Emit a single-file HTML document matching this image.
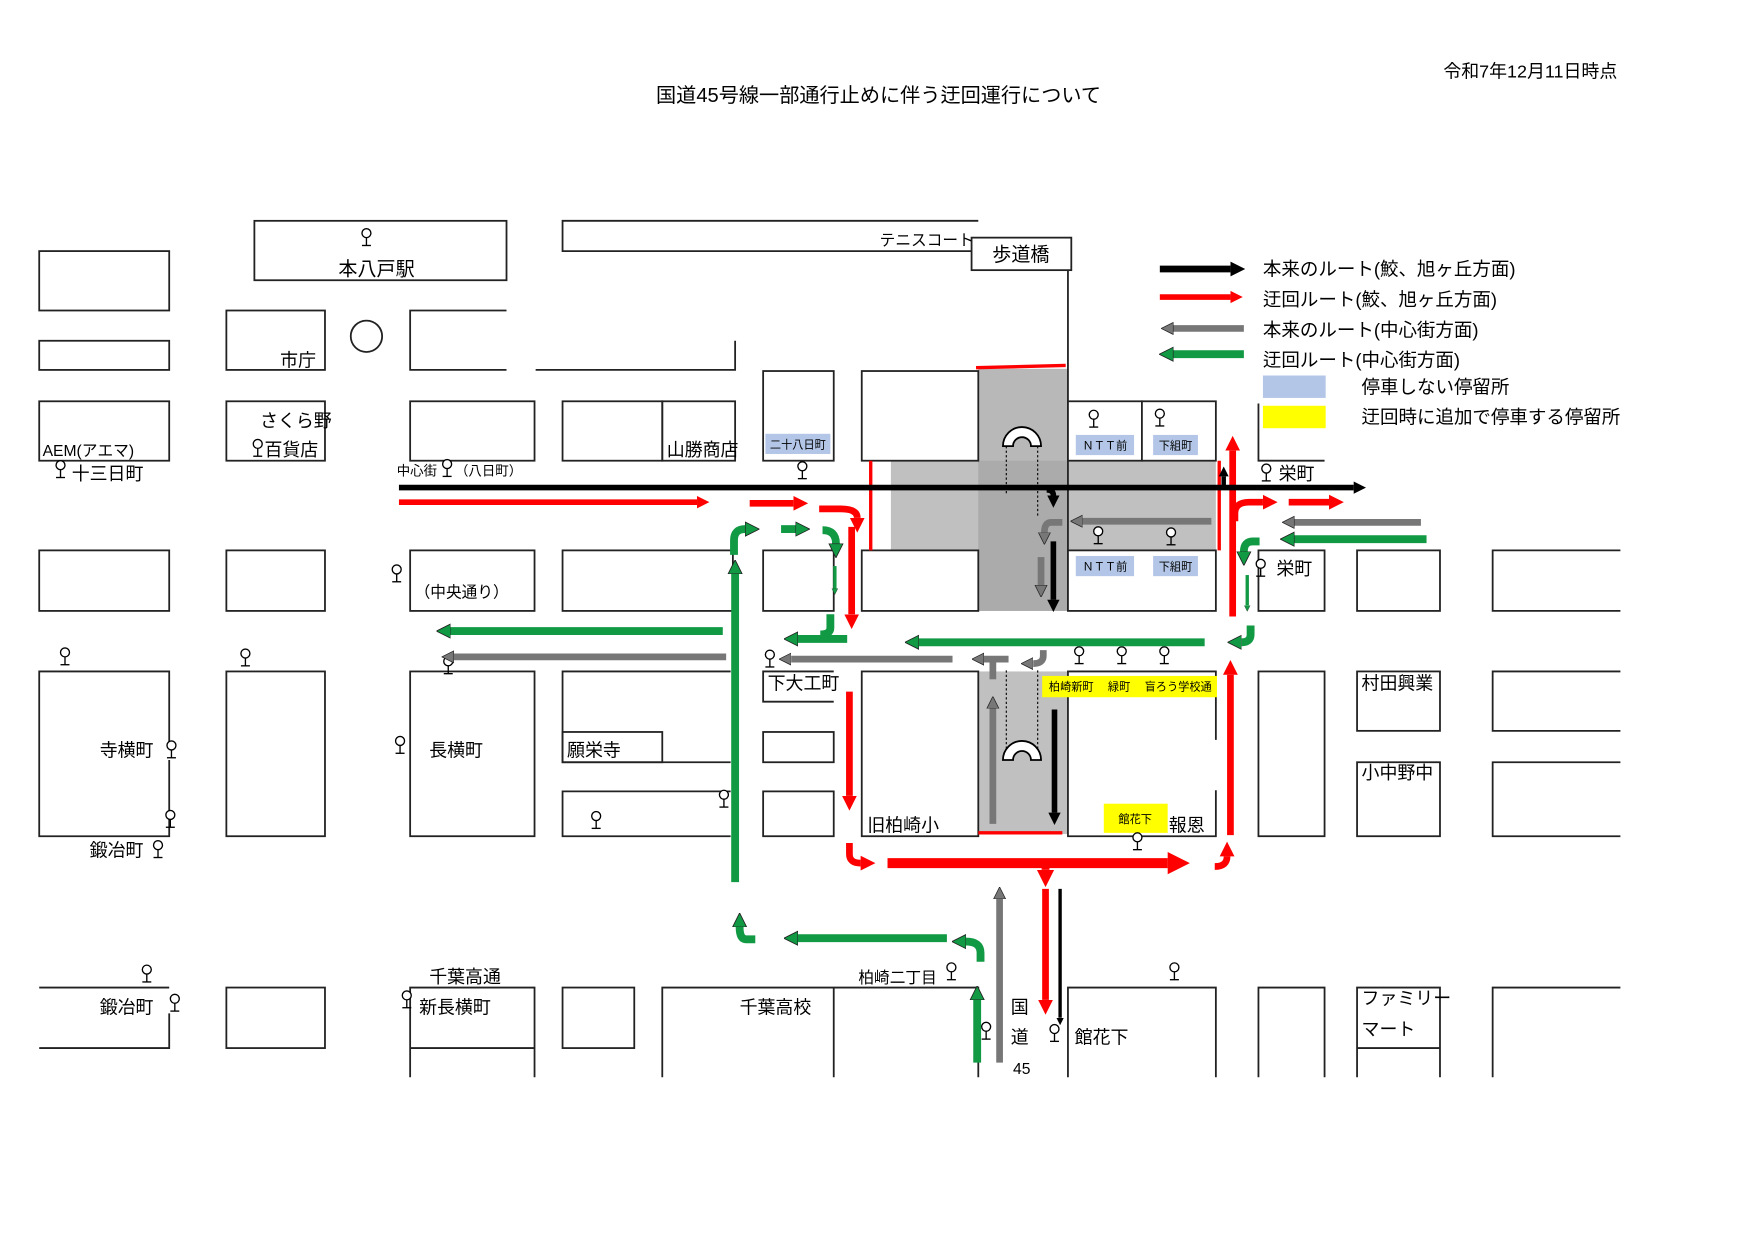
<!DOCTYPE html>
<html><head><meta charset="utf-8"><style>
html,body{margin:0;padding:0;background:#fff;}
svg{display:block;}
text{font-family:"Liberation Sans","Noto Sans CJK JP",sans-serif;fill:#000;}
</style></head><body>
<svg width="1756" height="1242" viewBox="0 0 1567 1108" preserveAspectRatio="none" xmlns="http://www.w3.org/2000/svg">
<defs>
<marker id="hk" viewBox="0 0 10 10" refX="0" refY="5" markerWidth="2.2" markerHeight="2.8" orient="auto" markerUnits="strokeWidth"><path d="M0,0L10,5L0,10z" fill="#000"/></marker>
<marker id="hr" viewBox="0 0 10 10" refX="0" refY="5" markerWidth="2.2" markerHeight="2.8" orient="auto" markerUnits="strokeWidth"><path d="M0,0L10,5L0,10z" fill="#f00"/></marker>
<marker id="hg" viewBox="0 0 10 10" refX="0" refY="5" markerWidth="1.8" markerHeight="2.6" orient="auto" markerUnits="strokeWidth"><path d="M0,0L10,5L0,10z" fill="#119944" stroke="#222" stroke-width="0.6"/></marker>
<marker id="hy" viewBox="0 0 10 10" refX="0" refY="5" markerWidth="1.8" markerHeight="2.6" orient="auto" markerUnits="strokeWidth"><path d="M0,0L10,5L0,10z" fill="#777" stroke="#222" stroke-width="0.6"/></marker>
<g id="stop"><circle cx="0" cy="-4" r="4" fill="#fff" stroke="#000" stroke-width="1.2"/><line x1="0" y1="0" x2="0" y2="7" stroke="#000" stroke-width="1.2"/><line x1="-4" y1="7" x2="4" y2="7" stroke="#000" stroke-width="1.2"/></g>
</defs>

<rect x="795" y="411" width="290" height="80" fill="#c0c0c0"/>
<rect x="873" y="329" width="80" height="216" fill="#b8b8b8"/>
<rect x="873" y="411" width="80" height="134" fill="#a8a8a8" opacity="0.8"/>
<rect x="873" y="599" width="80" height="145" fill="#c0c0c0"/>

<text x="784" y="91" font-size="18" text-anchor="middle">国道45号線一部通行止めに伴う迂回運行について</text>
<text x="1288" y="69" font-size="16">令和7年12月11日時点</text>

<g fill="none" stroke="#222" stroke-width="1.6">
<rect x="35" y="224" width="116" height="53"/>
<rect x="227" y="197" width="225" height="53"/>
<path d="M873,197H502V224H873"/>
<rect x="867" y="212" width="89" height="29" fill="#fff"/>
<line x1="953" y1="241" x2="953" y2="545"/>
<rect x="35" y="304" width="116" height="26"/>
<rect x="202" y="277" width="88" height="53"/>
<circle cx="327" cy="300" r="14"/>
<path d="M452,277H366V330H452"/>
<path d="M478,330H656V304"/>
<rect x="35" y="358" width="116" height="53"/>
<rect x="202" y="358" width="88" height="53"/>
<rect x="366" y="358" width="111" height="53"/>
<rect x="502" y="358" width="89" height="53"/>
<rect x="591" y="358" width="65" height="53"/>
<rect x="681" y="331" width="63" height="80"/>
<rect x="769" y="331" width="104" height="80" fill="#fff"/>
<rect x="953" y="358" width="66" height="53" fill="#fff"/>
<rect x="1019" y="358" width="66" height="53" fill="#fff"/>
<path d="M1123,360V411H1182"/>
<rect x="35" y="491" width="116" height="54"/>
<rect x="202" y="491" width="88" height="54"/>
<rect x="366" y="491" width="111" height="54"/>
<rect x="502" y="491" width="152" height="54"/>
<rect x="681" y="491" width="63" height="54"/>
<rect x="769" y="491" width="104" height="54" fill="#fff"/>
<rect x="953" y="491" width="132" height="54" fill="#fff"/>
<rect x="1123" y="491" width="59" height="54"/>
<rect x="1211" y="491" width="74" height="54"/>
<path d="M1446,491H1332V545H1446"/>
<path d="M151,665V599H35V746H151V678"/>
<rect x="202" y="599" width="88" height="147"/>
<rect x="366" y="599" width="111" height="147"/>
<path d="M652,599H502V680H652"/>
<rect x="502" y="653" width="89" height="27"/>
<path d="M652,706H502V746H652"/>
<path d="M744,599H681V626H744"/>
<rect x="681" y="653" width="63" height="27"/>
<rect x="681" y="706" width="63" height="40"/>
<rect x="769" y="599" width="104" height="147" fill="#fff"/>
<path d="M1085,705V746H953V599H1085V660"/>
<rect x="1123" y="599" width="59" height="147"/>
<rect x="1211" y="599" width="74" height="53"/>
<rect x="1211" y="680" width="74" height="66"/>
<path d="M1446,599H1332V652H1446"/>
<path d="M1446,680H1332V746H1446"/>
<path d="M151,881H35M151,904V935H35"/>
<rect x="202" y="881" width="88" height="54"/>
<path d="M366,961V881H477V961M366,935H477"/>
<rect x="502" y="881" width="64" height="54"/>
<path d="M591,961V881H744V961M744,881H873V961"/>
<path d="M953,961V881H1085V961"/>
<path d="M1123,961V881H1182V961"/>
<path d="M1211,961V881H1285V961M1211,935H1285"/>
<path d="M1446,881H1332V961"/>
</g>

<g font-size="16">
<text x="336" y="246" text-anchor="middle" font-size="17">本八戸駅</text>
<text x="785" y="219" font-size="14">テニスコート</text>
<text x="911" y="233" text-anchor="middle" font-size="17">歩道橋</text>
<text x="250" y="327">市庁</text>
<text x="38" y="407" font-size="14">AEM(アエマ)</text>
<text x="64" y="428">十三日町</text>
<text x="232" y="381">さくら野</text>
<text x="236" y="407">百貨店</text>
<text x="595" y="407">山勝商店</text>
<text x="354" y="424" font-size="12">中心街</text>
<text x="406" y="424" font-size="12">（八日町）</text>
<text x="370" y="533" font-size="14">（中央通り）</text>
<text x="1141" y="428">栄町</text>
<text x="1139" y="513">栄町</text>
<text x="89" y="675">寺横町</text>
<text x="80" y="764">鍛冶町</text>
<text x="383" y="675">長横町</text>
<text x="506" y="675">願栄寺</text>
<text x="685" y="615">下大工町</text>
<text x="774" y="742">旧柏崎小</text>
<text x="1043" y="742">報恩</text>
<text x="1215" y="615">村田興業</text>
<text x="1215" y="695">小中野中</text>
<text x="89" y="904">鍛冶町</text>
<text x="383" y="877">千葉高通</text>
<text x="374" y="904">新長横町</text>
<text x="660" y="904">千葉高校</text>
<text x="766" y="877" font-size="14">柏崎二丁目</text>
<text x="902" y="904">国</text>
<text x="902" y="931">道</text>
<text x="904" y="958" font-size="14">45</text>
<text x="959" y="931">館花下</text>
<text x="1215" y="896">ファミリー</text>
<text x="1215" y="924">マート</text>
</g>

<rect x="683" y="387" width="58" height="18" fill="#b4c6e7"/><text x="712" y="400" font-size="10" text-anchor="middle">二十八日町</text>
<rect x="960" y="388" width="52" height="18" fill="#b4c6e7"/><text x="986" y="401" font-size="10" text-anchor="middle">ＮＴＴ前</text>
<rect x="1029" y="388" width="40" height="18" fill="#b4c6e7"/><text x="1049" y="401" font-size="10" text-anchor="middle">下組町</text>
<rect x="960" y="496" width="52" height="18" fill="#b4c6e7"/><text x="986" y="509" font-size="10" text-anchor="middle">ＮＴＴ前</text>
<rect x="1029" y="496" width="40" height="18" fill="#b4c6e7"/><text x="1049" y="509" font-size="10" text-anchor="middle">下組町</text>
<rect x="930" y="603" width="156" height="19" fill="#ffff00"/><text x="936" y="616" font-size="10">柏崎新町　 緑町　 盲ろう学校通</text>
<rect x="985" y="717" width="57" height="26" fill="#ffff00"/><text x="1013" y="734" font-size="10" text-anchor="middle">館花下</text>

<g>
<use href="#stop" x="327" y="212"/><use href="#stop" x="230" y="400"/><use href="#stop" x="54" y="419"/>
<use href="#stop" x="399" y="418"/><use href="#stop" x="716" y="420"/><use href="#stop" x="976" y="374"/><use href="#stop" x="1035" y="373"/>
<use href="#stop" x="1130" y="422"/><use href="#stop" x="980" y="478"/><use href="#stop" x="1045" y="479"/><use href="#stop" x="1125" y="507"/>
<use href="#stop" x="354" y="512"/><use href="#stop" x="58" y="586"/><use href="#stop" x="219" y="587"/><use href="#stop" x="400" y="594"/>
<use href="#stop" x="687" y="588"/><use href="#stop" x="963" y="585"/><use href="#stop" x="1001" y="585"/><use href="#stop" x="1039" y="585"/>
<use href="#stop" x="153" y="669"/><use href="#stop" x="152" y="731"/><use href="#stop" x="141" y="758"/><use href="#stop" x="357" y="665"/>
<use href="#stop" x="646" y="713"/><use href="#stop" x="532" y="732"/><use href="#stop" x="1015" y="751"/>
<use href="#stop" x="131" y="869"/><use href="#stop" x="156" y="895"/><use href="#stop" x="363" y="892"/><use href="#stop" x="849" y="867"/>
<use href="#stop" x="1048" y="867"/><use href="#stop" x="880" y="920"/><use href="#stop" x="941" y="922"/>
</g>

<g stroke="#000" stroke-width="1">
<path d="M895,398A16,16 0 0 1 929,398H920A7,7 0 0 0 904,398Z" fill="#fff" stroke-width="1.6"/>
<path d="M898,398V440M926,398V460M898,598V672M926,598V672" stroke-dasharray="2,2"/>
<path d="M895,678A16,16 0 0 1 929,678H920A7,7 0 0 0 904,678Z" fill="#fff" stroke-width="1.6"/>
</g>

<g fill="none" stroke="#f00">
<line x1="871" y1="328" x2="951" y2="326" stroke-width="3"/>
<line x1="777" y1="411" x2="777" y2="491" stroke-width="3"/>
<line x1="1088" y1="411" x2="1088" y2="491" stroke-width="3"/>
<line x1="873" y1="743" x2="948" y2="743" stroke-width="3"/>
<line x1="356" y1="448" x2="622" y2="448" stroke-width="5" marker-end="url(#hr)"/>
<line x1="669" y1="449" x2="708" y2="449" stroke-width="6" marker-end="url(#hr)"/>
<path d="M731,454H750Q765,454 765,462" stroke-width="6" marker-end="url(#hr)"/>
<line x1="760" y1="470" x2="760" y2="548" stroke-width="6" marker-end="url(#hr)"/>
<line x1="758" y1="617" x2="758" y2="710" stroke-width="6" marker-end="url(#hr)"/>
<path d="M758,752V762Q758,770 768,770" stroke-width="6" marker-end="url(#hr)"/>
<line x1="792" y1="770" x2="1042" y2="770" stroke-width="9" marker-end="url(#hr)"/>
<line x1="933" y1="770" x2="933" y2="776" stroke-width="7" marker-end="url(#hr)"/>
<line x1="933" y1="793" x2="933" y2="892" stroke-width="6" marker-end="url(#hr)"/>
<path d="M1084,773Q1095,773 1095,764" stroke-width="6" marker-end="url(#hr)"/>
<line x1="1098" y1="745" x2="1098" y2="602" stroke-width="6" marker-end="url(#hr)"/>
<line x1="1100" y1="550" x2="1100" y2="402" stroke-width="6" marker-end="url(#hr)"/>
<path d="M1102,465V458Q1102,448 1115,448H1127" stroke-width="6" marker-end="url(#hr)"/>
<line x1="1150" y1="448" x2="1186" y2="448" stroke-width="6" marker-end="url(#hr)"/>
<line x1="1035" y1="265" x2="1098" y2="265" stroke-width="5" marker-end="url(#hr)"/>
</g>

<g fill="none" stroke="#000">
<line x1="356" y1="435" x2="1208" y2="435" stroke-width="5" marker-end="url(#hk)"/>
<line x1="1035" y1="240" x2="1098" y2="240" stroke-width="6" marker-end="url(#hk)"/>
<path d="M934,437Q940,437 940,442" stroke-width="5" marker-end="url(#hk)"/>
<line x1="940" y1="483" x2="940" y2="535" stroke-width="5" marker-end="url(#hk)"/>
<line x1="941" y1="633" x2="941" y2="725" stroke-width="5" marker-end="url(#hk)"/>
<line x1="1092" y1="435" x2="1092" y2="425" stroke-width="4" marker-end="url(#hk)"/>
<line x1="946" y1="793" x2="946" y2="908" stroke-width="3" marker-end="url(#hk)"/>
</g>

<g fill="none" stroke="#777" stroke-width="6">
<line x1="1110" y1="293" x2="1047" y2="293" marker-end="url(#hy)"/>
<line x1="1081" y1="465" x2="966" y2="465" marker-end="url(#hy)"/>
<path d="M948,466H938Q932,466 932,475" marker-end="url(#hy)"/>
<line x1="929" y1="497" x2="929" y2="522" marker-end="url(#hy)"/>
<line x1="1268" y1="466" x2="1155" y2="466" marker-end="url(#hy)"/>
<line x1="850" y1="588" x2="706" y2="588" marker-end="url(#hy)"/>
<line x1="648" y1="586" x2="405" y2="586" marker-end="url(#hy)"/>
<path d="M900,588H878" marker-end="url(#hy)"/>
<line x1="886" y1="588" x2="886" y2="606"/>
<path d="M931,580V585Q931,592 922,592" marker-end="url(#hy)"/>
<line x1="886" y1="735" x2="886" y2="632" marker-end="url(#hy)"/>
<line x1="892" y1="948" x2="892" y2="802" marker-end="url(#hy)"/>
</g>

<g fill="none" stroke="#119944" stroke-width="7">
<line x1="1110" y1="316" x2="1047" y2="316" marker-end="url(#hg)"/>
<line x1="1273" y1="481" x2="1155" y2="481" marker-end="url(#hg)"/>
<path d="M1124,483H1118Q1110,483 1110,492" marker-end="url(#hg)"/>
<line x1="1113" y1="513" x2="1113" y2="540" stroke-width="3" marker-end="url(#hg)"/>
<path d="M1116,558V566Q1116,573 1108,573" marker-end="url(#hg)"/>
<line x1="1075" y1="573" x2="820" y2="573" marker-end="url(#hg)"/>
<line x1="645" y1="563" x2="402" y2="563" marker-end="url(#hg)"/>
<line x1="756" y1="570" x2="712" y2="570" marker-end="url(#hg)"/>
<path d="M741,548V560Q741,566 732,566"/>
<line x1="745" y1="505" x2="745" y2="525" stroke-width="3" marker-end="url(#hg)"/>
<path d="M734,473Q746,473 746,485" marker-end="url(#hg)"/>
<line x1="697" y1="472" x2="710" y2="472" marker-end="url(#hg)"/>
<line x1="656" y1="787" x2="656" y2="512" marker-end="url(#hg)"/>
<path d="M655,495V482Q655,472 665,472" marker-end="url(#hg)"/>
<path d="M875,858V850Q875,840 862,840" marker-end="url(#hg)"/>
<line x1="845" y1="837" x2="712" y2="837" marker-end="url(#hg)"/>
<path d="M674,838H666Q660,838 660,827" marker-end="url(#hg)"/>
<line x1="872" y1="948" x2="872" y2="892" marker-end="url(#hg)"/>
</g>

<rect x="1127" y="335" width="56" height="20" fill="#b4c6e7"/>
<rect x="1127" y="362" width="56" height="20" fill="#ffff00"/>
<g font-size="16.5">
<text x="1127" y="246">本来のルート(鮫、旭ヶ丘方面)</text>
<text x="1127" y="273">迂回ルート(鮫、旭ヶ丘方面)</text>
<text x="1127" y="300">本来のルート(中心街方面)</text>
<text x="1127" y="327">迂回ルート(中心街方面)</text>
<text x="1215" y="351">停車しない停留所</text>
<text x="1215" y="378">迂回時に追加で停車する停留所</text>
</g>
</svg>
</body></html>
